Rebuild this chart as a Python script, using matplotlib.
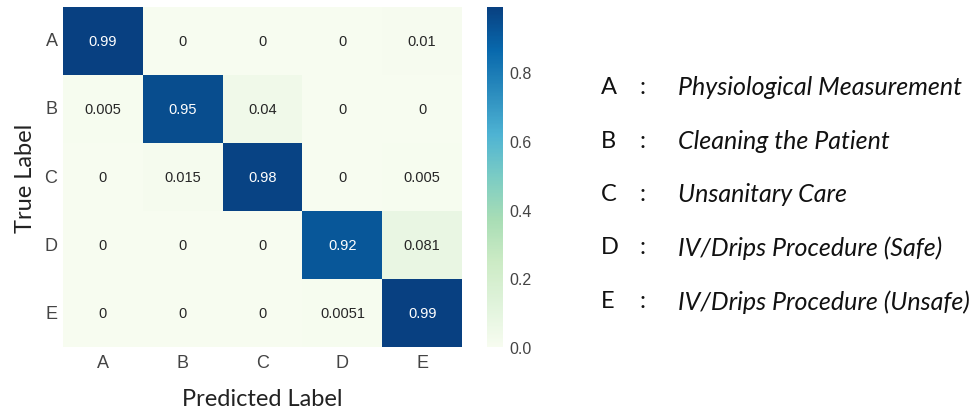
import matplotlib
matplotlib.use("Agg")
import matplotlib.pyplot as plt
import seaborn as sns
import numpy as np

# Confusion matrix data
labels = ['A', 'B', 'C', 'D', 'E']
row_a = [0.99, 0, 0, 0, 0.01]
row_b = [0.005, 0.95, 0.04, 0, 0]
row_c = [0, 0.015, 0.98, 0, 0.005]
row_d = [0, 0, 0, 0.92, 0.081]
row_e = [0, 0, 0, 0.0051, 0.99]
class_names = ['Physiological Measurement', 'Cleaning the Patient', 'Unsanitary Care',
               'IV/Drips Procedure (Safe)', 'IV/Drips Procedure (Unsafe)']

cm = np.array([row_a, row_b, row_c, row_d, row_e])

sns.set_style('white')
plt.rcParams['font.family'] = ['Liberation Sans', 'DejaVu Sans']

fig = plt.figure(figsize=(9.79, 4.14), dpi=100)
ax = fig.add_axes([0.0644, 0.159, 0.4076, 0.822])
cax = fig.add_axes([0.497, 0.159, 0.0165, 0.822])

sns.heatmap(cm, annot=True, fmt='.2g', cmap='GnBu', vmin=0, ax=ax, cbar_ax=cax,
            xticklabels=labels, yticklabels=labels,
            annot_kws={'fontsize': 10.5, 'family': 'Liberation Sans'})

ax.tick_params(axis='both', length=0, labelsize=13, colors='#444444')
ax.tick_params(axis='x', pad=5)
ax.tick_params(axis='y', pad=4, labelrotation=0)
for t in ax.get_xticklabels() + ax.get_yticklabels():
    t.set_color('#444444')

ax.set_xlabel('Predicted Label', fontsize=17, family='Lato', color='#222222', labelpad=12)
ax.set_ylabel('True Label', fontsize=17, family='Lato', color='#222222', labelpad=6)

cax.tick_params(length=0, labelsize=11.5, colors='#444444', pad=5)
cax.set_yticks([0, 0.2, 0.4, 0.6, 0.8])
cax.set_yticklabels(['0.0', '0.2', '0.4', '0.6', '0.8'])
for s in cax.spines.values():
    s.set_visible(False)

# Class legend on the right
ys = [0.789, 0.659, 0.529, 0.401, 0.271]
for lab, name, y in zip(labels, class_names, ys):
    fig.text(0.614, y, lab, fontsize=17, family='Lato', color='#111111', va='center', ha='left')
    fig.text(0.653, y, ':', fontsize=17, family='Lato', color='#111111', va='center', ha='left')
    fig.text(0.693, y, name, fontsize=18, family='Lato', style='italic', color='#111111',
             va='center', ha='left')

fig.savefig('out.png', dpi=100, facecolor='white')
